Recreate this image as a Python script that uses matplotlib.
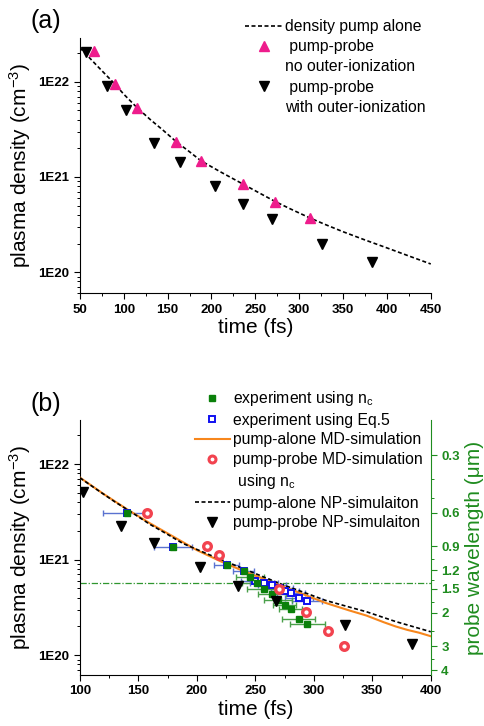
import numpy as np
import matplotlib
matplotlib.use('Agg')
import matplotlib.pyplot as plt
from matplotlib.ticker import FixedLocator, LogLocator, NullFormatter, FuncFormatter, MultipleLocator
from matplotlib.lines import Line2D

plt.rcParams['font.family'] = ['Liberation Sans', 'DejaVu Sans']
plt.rcParams['mathtext.fontset'] = 'custom'
plt.rcParams['mathtext.rm'] = 'Liberation Sans'
plt.rcParams['mathtext.it'] = 'Liberation Sans:italic'
plt.rcParams['mathtext.bf'] = 'Liberation Sans:bold'

# ---------------- data: panel (a) ----------------
pump_alone_t = [50, 70, 90, 100, 115, 130, 145, 160, 175, 188, 210, 235, 255, 273,
                290, 312, 330, 350, 375, 400, 425, 450]
pump_alone_n = [2.28e22, 1.46e22, 9.44e21, 7.41e21, 5.37e21, 4.03e21, 3.09e21,
                2.34e21, 1.84e21, 1.48e21, 1.135e21, 8.51e20, 6.76e20, 5.50e20,
                4.62e20, 3.72e20, 3.16e20, 2.66e20, 2.18e20, 1.80e20, 1.48e20, 1.22e20]
pp_noouter_t = [65.6, 89.9, 114.6, 159.9, 188.4, 235.4, 273.0, 311.8]
pp_noouter_n = [2.11e22, 9.4e21, 5.26e21, 2.31e21, 1.48e21, 8.43e20, 5.43e20, 3.72e20]
pp_outer_t = [56.8, 80.4, 102.1, 134.3, 164.0, 203.5, 235.4, 268.5, 326.1, 383.5]
pp_outer_n = [2.03e22, 9.0e21, 5.05e21, 2.26e21, 1.43e21, 8.1e20, 5.2e20, 3.6e20,
              2.0e20, 1.29e20]

# ---------------- data: panel (b) ----------------
exp_nc_t = [139.9, 179.7, 225.4, 240.2, 245.3, 251.3, 257.3, 264.1, 269.2, 275.2,
            280.3, 287.2, 294.3]
exp_nc_n = [3.08e21, 1.37e21, 8.8e20, 7.7e20, 6.6e20, 5.7e20, 4.9e20, 4.35e20,
            3.8e20, 3.34e20, 3.07e20, 2.42e20, 2.1e20]
exp_nc_err = [0, 0, 0, 0, 12, 13, 14, 12, 12, 10, 10, 14, 15]

exp_eq5_t = [139.9, 179.7, 225.4, 240.2, 250.1, 257.3, 264.4, 270.1, 275.2, 280.9,
             287.2, 294.3]
exp_eq5_n = [3.08e21, 1.37e21, 8.8e20, 7.7e20, 6.0e20, 5.7e20, 5.4e20, 5.07e20,
             4.7e20, 4.5e20, 4.0e20, 3.7e20]
exp_eq5_err = [20, 16, 11, 9, 12, 12, 12, 12, 12, 12, 12, 13]

md_alone_t = [100, 110, 120, 140, 160, 180, 200, 220, 240, 260, 280, 300, 310, 330,
              345, 360, 370, 380, 390, 400]
md_alone_n = [7.24e21, 5.96e21, 4.90e21, 3.39e21, 2.40e21, 1.74e21, 1.26e21, 9.66e20,
              7.59e20, 6.10e20, 4.90e20, 3.94e20, 3.53e20, 2.95e20, 2.60e20, 2.21e20,
              2.00e20, 1.84e20, 1.72e20, 1.58e20]

md_probe_t = [157.3, 208.3, 219.1, 270.4, 293.2, 312.2, 325.6]
md_probe_n = [3.1e21, 1.39e21, 1.12e21, 4.96e20, 2.8e20, 1.78e20, 1.24e20]

np_alone_t = [100, 115, 130, 145, 160, 175, 188, 210, 235, 255, 273, 290, 310, 330,
              345, 370, 400]
np_alone_n = [7.2e21, 5.37e21, 4.03e21, 3.09e21, 2.34e21, 1.84e21, 1.48e21, 1.135e21,
              8.51e20, 6.76e20, 5.5e20, 4.62e20, 3.75e20, 3.2e20, 2.85e20, 2.25e20,
              1.76e20]

np_probe_t = [102.3, 134.8, 163.2, 202.8, 235.3, 267.5, 326.5, 383.8]
np_probe_n = [5.15e21, 2.27e21, 1.48e21, 8.3e20, 5.3e20, 3.7e20, 2.06e20, 1.3e20]

cutoff_wavelength = 1.4          # um
wl_major = [0.3, 0.6, 0.9, 1.2, 1.5, 2, 3, 4]
wl_minor = [0.4, 0.5, 1.05, 1.35, 1.75, 2.5, 3.5]
NC_COEF = 1.115e21               # n_c = 1.115e21 / lambda^2 (cm^-3, lambda in um)

def n_crit(lam):
    return NC_COEF / np.asarray(lam, dtype=float) ** 2

# ---------------- styling ----------------
PINK = '#ee1c8c'
GREEN = '#0a800a'
LGREEN = '#4aa04a'
BLUE = '#1010f0'
LBLUE = '#5a72d0'
ORANGE = '#f7861c'
RED = '#f2434f'
AXGREEN = '#1f8c1f'
TICKFS = 9.5
LABFS = 15
LEGFS = 11.3
TRI = 7.5

fig = plt.figure(figsize=(4.84, 7.26), dpi=100)

def style_axes(ax, xmaj, xmin_step):
    ax.set_yscale('log')
    ax.spines['top'].set_visible(False)
    ax.spines['right'].set_visible(False)
    ax.xaxis.set_major_locator(MultipleLocator(xmaj))
    ax.xaxis.set_minor_locator(MultipleLocator(xmin_step))
    ax.yaxis.set_major_locator(FixedLocator([1e20, 1e21, 1e22]))
    ax.yaxis.set_major_formatter(FuncFormatter(lambda v, p: '1E%d' % round(np.log10(v))))
    ax.yaxis.set_minor_locator(LogLocator(base=10, subs=np.arange(2, 10)))
    ax.yaxis.set_minor_formatter(NullFormatter())
    ax.tick_params(which='both', direction='out', top=False, right=False)
    ax.tick_params(which='major', length=4, width=0.8, labelsize=TICKFS)
    ax.tick_params(which='minor', length=2.5, width=0.7)
    for lab in ax.get_xticklabels() + ax.get_yticklabels():
        lab.set_fontweight('bold')
    ax.set_xlabel('time (fs)', fontsize=LABFS, labelpad=2)
    ax.set_ylabel('plasma density (cm$^{-3}$)', fontsize=LABFS, labelpad=4)

# ---------------- panel (a) ----------------
axa = fig.add_axes([0.165, 0.596, 0.725, 0.352])
axa.plot(pump_alone_t, pump_alone_n, color='black', lw=1.2, dashes=(2.4, 1.5), zorder=2)
axa.plot(pp_noouter_t, pp_noouter_n, linestyle='none', marker='^', ms=TRI,
         color=PINK, mec=PINK, zorder=3)
axa.plot(pp_outer_t, pp_outer_n, linestyle='none', marker='v', ms=TRI,
         color='black', zorder=3)
axa.set_xlim(50, 450)
axa.set_ylim(6e19, 2.9e22)
style_axes(axa, 50, 25)

blank = Line2D([], [], linestyle='none')
ha = [Line2D([], [], color='black', lw=1.2, dashes=(2.4, 1.5)),
      Line2D([], [], linestyle='none', marker='^', ms=TRI, color=PINK),
      blank,
      Line2D([], [], linestyle='none', marker='v', ms=TRI, color='black'),
      blank]
la = ['density pump alone', ' pump-probe', 'no outer-ionization',
      ' pump-probe', 'with outer-ionization']
fig.legend(ha, la, loc='upper left', bbox_to_anchor=(245 / 484, 1 - 19 / 726),
           frameon=False, fontsize=LEGFS, handlelength=2.4, handletextpad=0.15,
           labelspacing=0.33, borderpad=0, borderaxespad=0)
fig.text(31 / 484, 1 - 21 / 726, '(a)', fontsize=18, ha='left', va='center')

# ---------------- panel (b) ----------------
axb = fig.add_axes([0.165, 0.0702, 0.725, 0.3513])
axb.errorbar(exp_eq5_t, exp_eq5_n, xerr=exp_eq5_err, fmt='none', ecolor=LBLUE,
             elinewidth=1.0, capsize=2.5, capthick=1.0, zorder=2)
axb.errorbar(exp_nc_t, exp_nc_n, xerr=exp_nc_err, fmt='none', ecolor=LGREEN,
             elinewidth=1.0, capsize=2.5, capthick=1.0, zorder=2)
axb.axhline(n_crit(cutoff_wavelength), color='#2f962f', lw=0.9,
            linestyle=(0, (5, 1.5, 1, 1.5)), zorder=1)
axb.plot(md_alone_t, md_alone_n, color=ORANGE, lw=1.5, zorder=3)
axb.plot(np_alone_t, np_alone_n, color='black', lw=1.2, dashes=(2.4, 1.5), zorder=4)
axb.plot(exp_eq5_t, exp_eq5_n, linestyle='none', marker='s', ms=4, mfc='white',
         mec=BLUE, mew=1.4, zorder=5)
axb.plot(exp_nc_t, exp_nc_n, linestyle='none', marker='s', ms=4.4, mfc=GREEN,
         mec=GREEN, mew=1.0, zorder=6)
axb.plot(md_probe_t, md_probe_n, linestyle='none', marker='o', ms=5.5, mfc='white',
         mec=RED, mew=2.4, zorder=7)
axb.plot(np_probe_t, np_probe_n, linestyle='none', marker='v', ms=TRI,
         color='black', zorder=8)
axb.set_xlim(100, 400)
axb.set_ylim(6.2e19, 2.9e22)
style_axes(axb, 50, 25)

# right axis: probe wavelength
axr = axb.twinx()
axr.set_yscale('log')
axr.set_ylim(axb.get_ylim())
axr.yaxis.set_major_locator(FixedLocator(n_crit(wl_major)))
axr.yaxis.set_major_formatter(FuncFormatter(
    lambda v, p: '%g' % round(np.sqrt(NC_COEF / v), 2)))
axr.yaxis.set_minor_locator(FixedLocator(n_crit(wl_minor)))
axr.yaxis.set_minor_formatter(NullFormatter())
for s in ['top', 'left', 'bottom']:
    axr.spines[s].set_visible(False)
axr.spines['right'].set_color(AXGREEN)
axr.tick_params(which='both', direction='out', colors=AXGREEN)
axr.tick_params(which='major', length=4, width=0.8, labelsize=TICKFS)
axr.tick_params(which='minor', length=2.5, width=0.7)
for lab in axr.get_yticklabels():
    lab.set_fontweight('bold')
axr.set_ylabel('probe wavelength (μm)', fontsize=LABFS, color=AXGREEN, labelpad=4)

hb = [Line2D([], [], linestyle='none', marker='s', ms=4.4, mfc=GREEN, mec=GREEN, mew=1.0),
      Line2D([], [], linestyle='none', marker='s', ms=4, mfc='white', mec=BLUE, mew=1.4),
      Line2D([], [], color=ORANGE, lw=1.5),
      Line2D([], [], linestyle='none', marker='o', ms=5, mfc='white', mec=RED, mew=2.2),
      blank,
      Line2D([], [], color='black', lw=1.2, dashes=(2.4, 1.5)),
      Line2D([], [], linestyle='none', marker='v', ms=TRI, color='black')]
lb = ['experiment using n$_\\mathrm{c}$', 'experiment using Eq.5',
      'pump-alone MD-simulation', 'pump-probe MD-simulation', ' using n$_\\mathrm{c}$',
      'pump-alone NP-simulaiton', 'pump-probe NP-simulaiton']
fig.legend(hb, lb, loc='upper left', bbox_to_anchor=(195 / 484, 1 - 389 / 726),
           frameon=False, fontsize=LEGFS, handlelength=2.2, handletextpad=0.25,
           labelspacing=0.3, borderpad=0, borderaxespad=0)
fig.text(30 / 484, 1 - 404 / 726, '(b)', fontsize=18, ha='left', va='center')

fig.savefig('out.png', dpi=100)
